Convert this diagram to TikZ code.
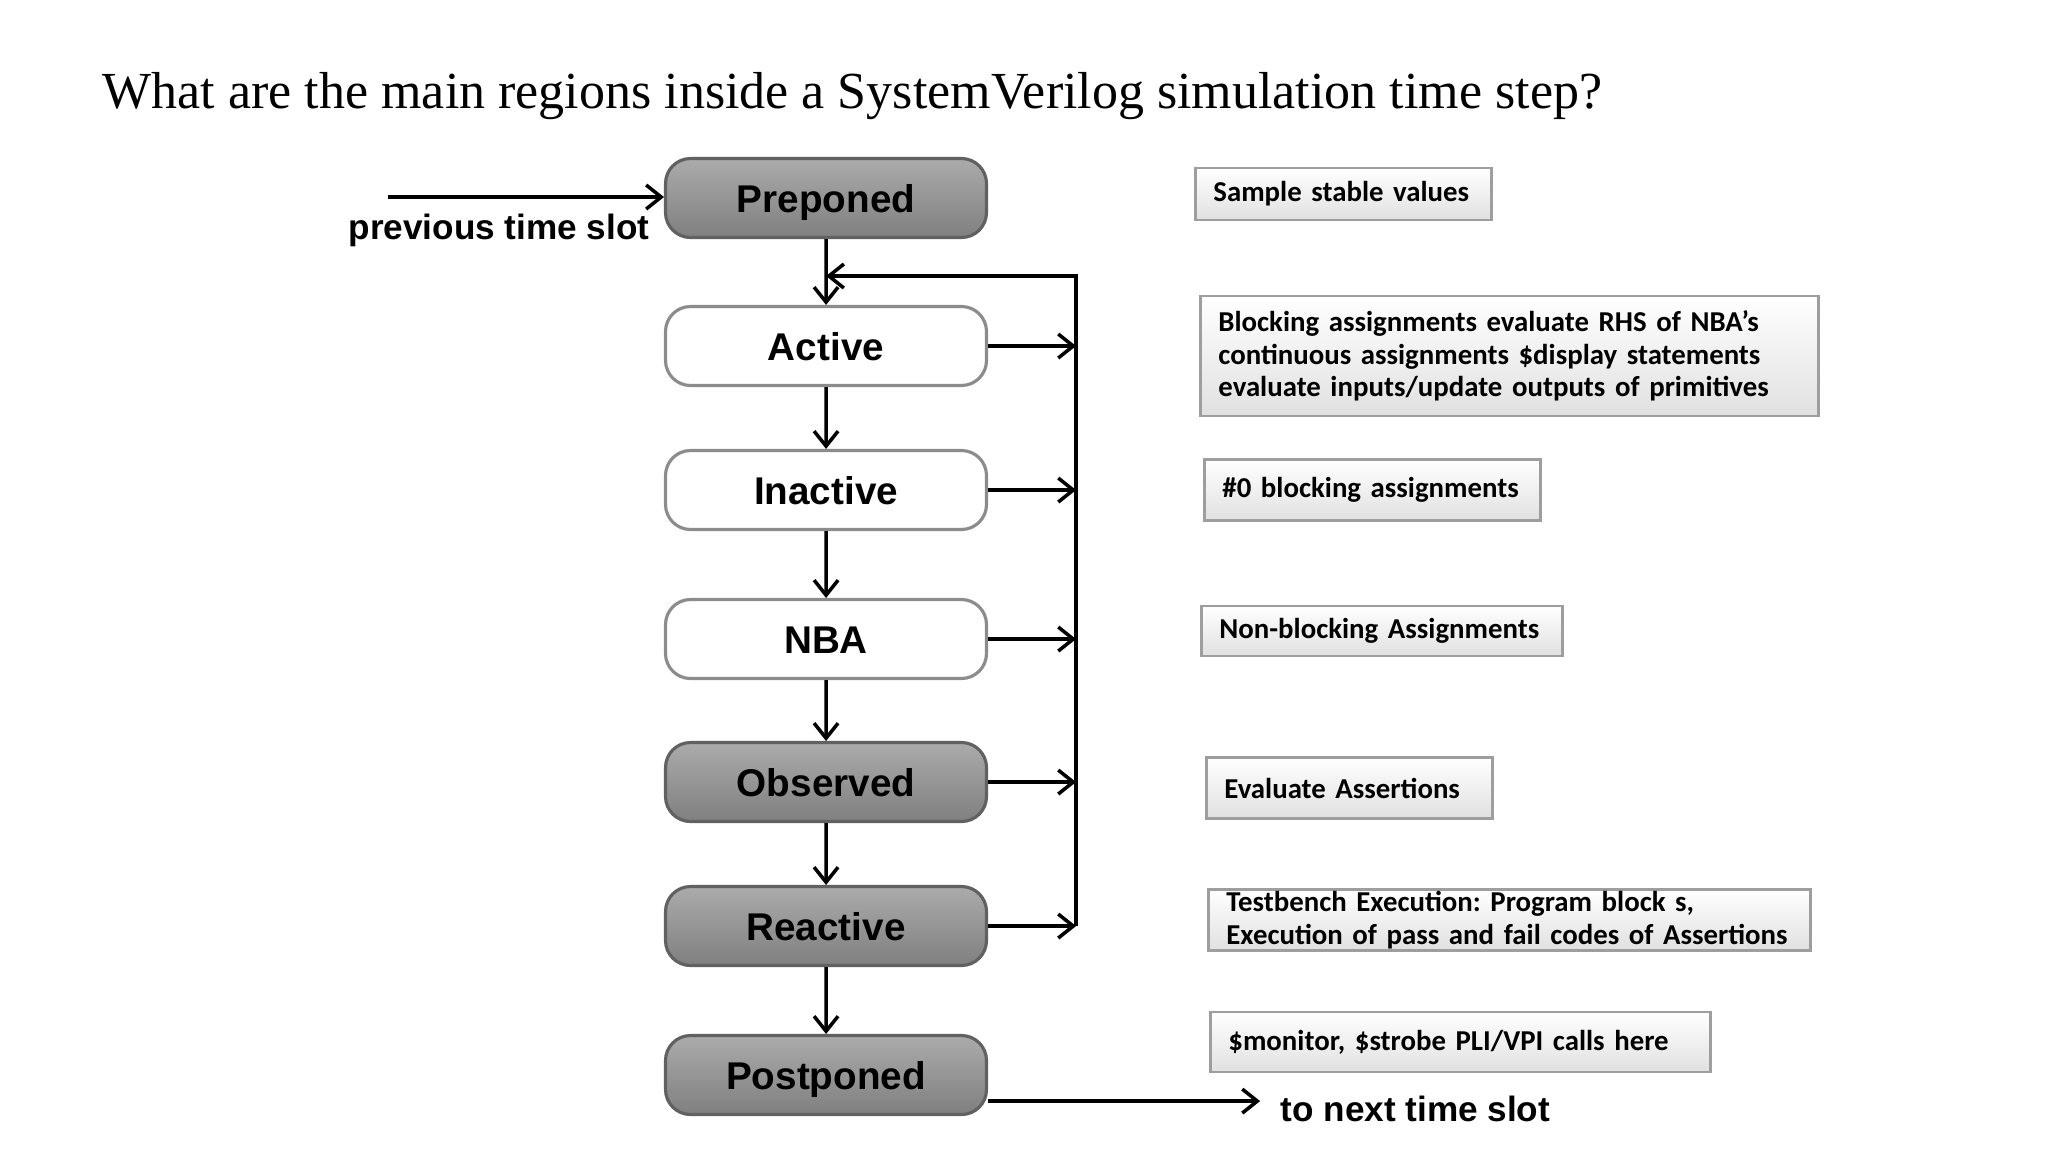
\documentclass[tikz,border=0pt]{standalone}
\usepackage{fontspec}
\setmainfont{Liberation Serif}
\newfontfamily\regionfont{Liberation Sans}
\newfontfamily\notefont{Carlito}
\usetikzlibrary{arrows.meta}
\frenchspacing
\hyphenpenalty=10000

\begin{document}
\begin{tikzpicture}[scale=0.1]
          \tikzstyle{every node}+=[inner sep=0pt]
          \tikzstyle{region}=[rounded corners=2.5mm, minimum width=3.21cm, minimum height=0.79cm, text height=8pt, text depth=0pt, line width=0.9pt, font=\regionfont\bfseries\fontsize{11}{13}\selectfont]
          \tikzstyle{darkregion}=[region, draw=black!62, top color=black!33, bottom color=black!50]
          \tikzstyle{lightregion}=[region, draw=black!45, fill=white]
          \tikzstyle{note}=[anchor=west, draw=black!38, line width=0.8pt, top color=white, bottom color=black!12, inner xsep=1.8mm, align=left, font=\notefont\bfseries\fontsize{8.2}{9.3}\selectfont]
          \tikzstyle{flow}=[-{Straight Barb[length=1.5mm,width=2.4mm]}, line width=1pt]
          \useasboundingbox (0,0) rectangle (204.8,-115.1);
          % title
          \node [anchor=base west, font=\fontsize{14.8}{18}\selectfont] (title) at (10.2,-10.8) {What are the main regions inside a SystemVerilog simulation time step?};
          % regions of the time slot
          \node [darkregion] (pre) at (82.6,-19.8) {Preponed};
          \node [lightregion] (act) at (82.6,-34.6) {Active};
          \node [lightregion] (ina) at (82.6,-49.0) {Inactive};
          \node [lightregion] (nba) at (82.6,-63.9) {NBA};
          \node [darkregion] (obs) at (82.6,-78.2) {Observed};
          \node [darkregion] (rea) at (82.6,-92.6) {Reactive};
          \node [darkregion] (post) at (82.6,-107.5) {Postponed};
          % notes
          \node [note, text width=2.60cm, minimum height=0.52cm] (n1) at (119.4,-19.4) {Sample stable values};
          \node [note, text width=5.82cm, minimum height=1.20cm] (n2) at (119.9,-35.6) {Blocking assignments evaluate RHS of NBA’s\\continuous assignments \$display statements\\evaluate inputs/update outputs of primitives};
          \node [note, text width=3.00cm, minimum height=0.61cm] (n3) at (120.3,-49.0) {\#0 blocking assignments};
          \node [note, text width=3.25cm, minimum height=0.50cm] (n4) at (120.0,-63.1) {Non-blocking Assignments};
          \node [note, text width=2.50cm, minimum height=0.61cm] (n5) at (120.5,-78.8) {Evaluate Assertions};
          \node [note, text width=5.66cm, minimum height=0.61cm] (n6) at (120.7,-92.0) {Testbench Execution: Program block s,\\Execution of pass and fail codes of Assertions};
          \node [note, text width=4.64cm, minimum height=0.60cm] (n7) at (120.9,-104.2) {\$monitor, \$strobe PLI/VPI calls here};
          % slot labels
          \node [anchor=east, font=\regionfont\bfseries\fontsize{10}{12}\selectfont] (prevlabel) at (65.0,-23.0) {previous time slot};
          \node [anchor=west, font=\regionfont\bfseries\fontsize{10}{12}\selectfont] (nextlabel) at (128.0,-110.9) {to next time slot};
          \coordinate (prevstart) at (38.8,-19.7);
          \coordinate (nextend) at (126.0,-110.1);
          \coordinate (fbtop) at (107.6,-27.6);
          \coordinate (fbbot) at (107.6,-92.6);
          % arrows
          \draw [flow] (prevstart) -- (pre.west |- prevstart);
          \draw [flow] (pre) -- (act);
          \draw [flow] (act) -- (ina);
          \draw [flow] (ina) -- (nba);
          \draw [flow] (nba) -- (obs);
          \draw [flow] (obs) -- (rea);
          \draw [flow] (rea) -- (post);
          \draw [flow] (act.east) -- (act.east -| fbtop);
          \draw [flow] (ina.east) -- (ina.east -| fbtop);
          \draw [flow] (nba.east) -- (nba.east -| fbtop);
          \draw [flow] (obs.east) -- (obs.east -| fbtop);
          \draw [flow] (rea.east) -- (rea.east -| fbtop);
          \draw [flow] (fbbot) -- (fbtop) -- (fbtop -| act);
          \draw [flow] (post.east |- nextend) -- (nextend);
        \end{tikzpicture}
\end{document}
